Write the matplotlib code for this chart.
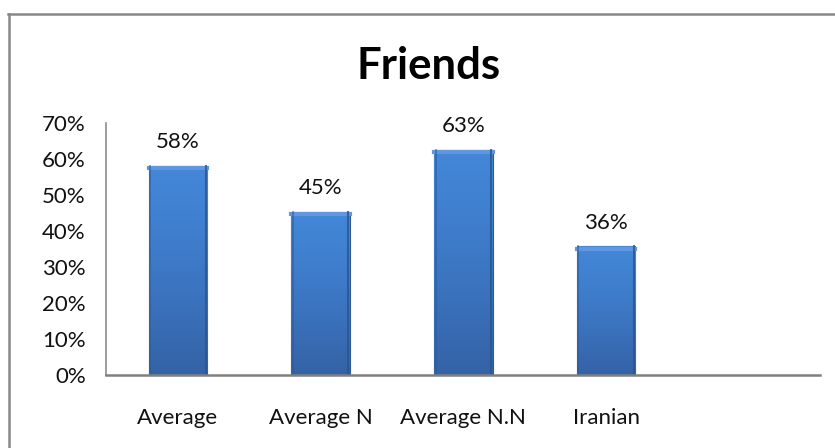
import matplotlib
matplotlib.use("Agg")
import matplotlib.pyplot as plt
import numpy as np
from matplotlib.colors import LinearSegmentedColormap
from matplotlib.lines import Line2D

categories = ["Average", "Average N", "Average N.N", "Iranian", ""]
values = [0.58, 0.454, 0.626, 0.357]
value_labels = ["58%", "45%", "63%", "36%"]
yticks = [0, 0.1, 0.2, 0.3, 0.4, 0.5, 0.6, 0.7]
ytick_labels = ["0%", "10%", "20%", "30%", "40%", "50%", "60%", "70%"]
title = "Friends"

plt.rcParams['font.family'] = ['Lato', 'DejaVu Sans']

fig = plt.figure(figsize=(8.35, 4.48), dpi=100)
ax = fig.add_axes([0.1275, 0.163, 0.855, 0.5625])

x = np.arange(len(values))
bars = ax.bar(x, values, width=0.41, color="#3d78c6", edgecolor="#2f5a94", linewidth=0.8, zorder=2)

cmap = LinearSegmentedColormap.from_list("bar", ["#3462a6", "#3a71bb", "#3f7ecd", "#4487d8"])
grad = np.linspace(0, 1, 256).reshape(-1, 1)
for b in bars:
    x0, w, h = b.get_x(), b.get_width(), b.get_height()
    im = ax.imshow(grad, cmap=cmap, origin="lower", aspect="auto",
                   extent=[x0, x0 + w, 0, h], zorder=2.5)
    im.set_clip_path(b)
    # bevel highlights
    ax.add_line(Line2D([x0, x0 + w], [h - 0.006, h - 0.006], color="#5f98e0", lw=3.0, zorder=3))
    ax.add_line(Line2D([x0 + 0.01, x0 + 0.01], [0, h], color="#2e5c9c", lw=1.2, zorder=3, alpha=0.7))
    ax.add_line(Line2D([x0 + w - 0.01, x0 + w - 0.01], [0, h], color="#2a5590", lw=1.5, zorder=3, alpha=0.8))

for xi, v, lab in zip(x, values, value_labels):
    ax.annotate(lab, (xi, v), xytext=(0, 10), textcoords="offset points",
                ha="center", va="bottom", fontsize=16, color="#111111")

ax.set_xlim(-0.5, len(categories) - 0.5)
ax.set_ylim(0, 0.7)
ax.set_xticks(np.arange(len(categories)))
ax.set_xticklabels(categories, fontsize=16, color="#111111")
ax.set_yticks(yticks)
ax.set_yticklabels(ytick_labels, fontsize=16, color="#111111")
ax.tick_params(axis="both", length=0)
ax.tick_params(axis="x", pad=24)
ax.tick_params(axis="y", pad=15)

for s in ["top", "right"]:
    ax.spines[s].set_visible(False)
ax.spines["left"].set_color("#8c8c8c")
ax.spines["left"].set_linewidth(1.2)
ax.spines["bottom"].set_color("#808080")
ax.spines["bottom"].set_linewidth(1.8)
ax.spines["bottom"].set_zorder(4)

fig.text(0.513, 0.852, title, ha="center", va="center", fontsize=31.5, fontweight="bold", color="#000000")

# outer chart frame (left and top edges visible)
fig.add_artist(Line2D([0.0105, 0.0105], [0, 0.969], transform=fig.transFigure, color="#888888", lw=1.8))
fig.add_artist(Line2D([0.0095, 1.0], [0.969, 0.969], transform=fig.transFigure, color="#888888", lw=1.8))

fig.savefig("out.png", dpi=100, facecolor="white")
